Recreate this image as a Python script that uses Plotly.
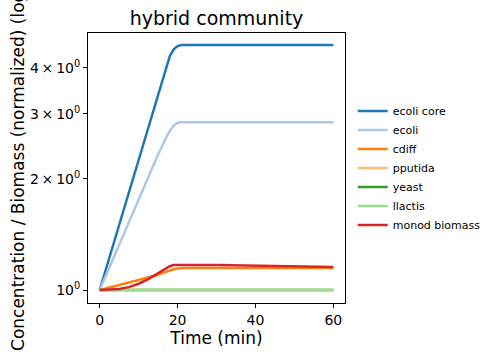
import plotly.graph_objects as go

time = [0, 2.5, 5, 7.5, 10, 12.5, 15, 17, 18, 19, 20, 21, 22, 25, 30, 40, 50, 60]
ecoli_core = [1.00, 1.226, 1.50, 1.843, 2.26, 2.77, 3.40, 3.98, 4.30, 4.49, 4.58, 4.61, 4.61, 4.61, 4.61, 4.61, 4.61, 4.61]
ecoli = [1.00, 1.151, 1.33, 1.527, 1.76, 2.02, 2.33, 2.58, 2.70, 2.79, 2.84, 2.85, 2.85, 2.85, 2.85, 2.85, 2.85, 2.85]
cdiff = [1.00, 1.015, 1.03, 1.048, 1.065, 1.083, 1.10, 1.12, 1.13, 1.138, 1.144, 1.147, 1.148, 1.148, 1.148, 1.148, 1.148, 1.148]
pputida = [1.00] * 18
yeast = [1.00] * 18
llactis = [1.00] * 18
monod_biomass = [1.00, 1.001, 1.006, 1.018, 1.04, 1.07, 1.11, 1.145, 1.16, 1.168, 1.169, 1.169, 1.169, 1.169, 1.168, 1.164, 1.159, 1.154]

series_names = ["ecoli core", "ecoli", "cdiff", "pputida", "yeast", "llactis", "monod biomass"]
series_values = [ecoli_core, ecoli, cdiff, pputida, yeast, llactis, monod_biomass]
colors = ["#1f77b4", "#aec7e8", "#ff7f0e", "#ffbb78", "#2ca02c", "#98df8a", "#d62728"]

x_ticks = [0, 20, 40, 60]
y_tickvals = [1, 2, 3, 4]
y_ticktext = ["10<sup>0</sup>", "2\u2009\u00d7\u200910<sup>0</sup>", "3\u2009\u00d7\u200910<sup>0</sup>", "4\u2009\u00d7\u200910<sup>0</sup>"]

fig = go.Figure()
for name, vals, c in zip(series_names, series_values, colors):
    fig.add_trace(go.Scatter(x=time, y=vals, mode="lines", name=name,
                             line=dict(color=c, width=2.5)))

fig.update_layout(
    width=489, height=360,
    margin=dict(l=88, r=144, t=33, b=57, autoexpand=False),
    paper_bgcolor="white", plot_bgcolor="white",
    font=dict(family="DejaVu Sans", color="black", size=14),
    title=dict(text="hybrid community", x=216.5/489, xanchor="center",
               y=1 - 18/360, yanchor="middle", yref="container",
               font=dict(size=19, color="black")),
    legend=dict(x=1.03, y=0.5, xanchor="left", yanchor="middle",
                font=dict(size=11), bgcolor="rgba(0,0,0,0)",
                tracegroupgap=0, itemwidth=30),
    showlegend=True,
)
fig.update_xaxes(range=[-3, 63], tickvals=x_ticks, ticks="outside", ticklen=4,
                 tickcolor="black", showline=True, linecolor="black", linewidth=1,
                 mirror=True, showgrid=False, zeroline=False, automargin=False,
                 title=dict(text="Time (min)", font=dict(size=17), standoff=4),
                 tickfont=dict(size=14))
fig.update_yaxes(type="log", range=[-0.0352, 0.6965], tickvals=y_tickvals, ticktext=y_ticktext,
                 ticks="outside", ticklen=4, tickcolor="black", showline=True,
                 linecolor="black", linewidth=1, mirror=True, showgrid=False, zeroline=False,
                 automargin=False,
                 title=dict(text="Concentration / Biomass (normalized) (log)",
                            font=dict(size=17), standoff=0),
                 tickfont=dict(size=14))

fig.write_html("out.html", config={"displayModeBar": False},
               post_script="document.body.style.margin='0';")
